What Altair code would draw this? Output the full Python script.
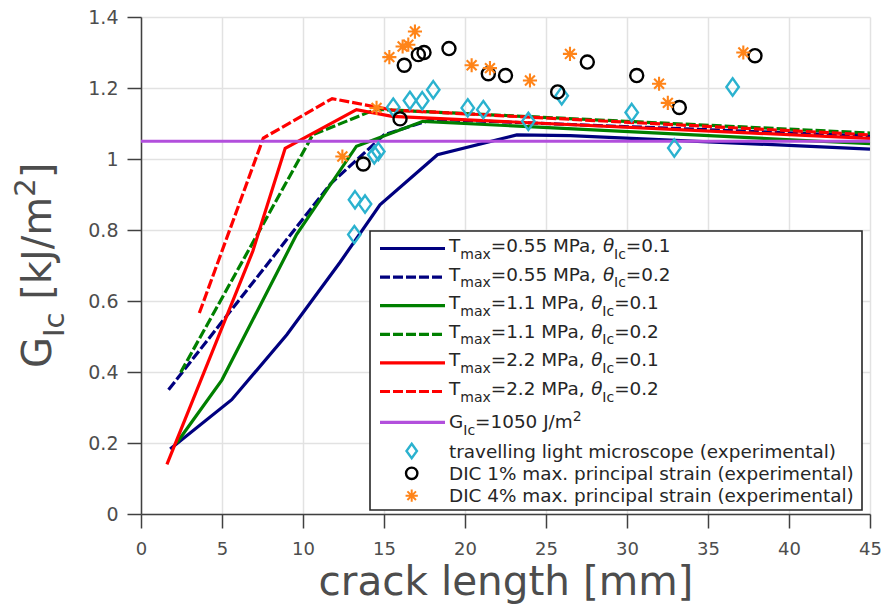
import altair as alt
import pandas as pd

# ---------------- data ----------------
# Cohesive-zone model predictions: crack length [mm] -> G_Ic [kJ/m^2]
tmax055_th01_a = [1.8, 5.6, 9.0, 12.3, 14.75, 18.3, 23.2, 26.5, 45.0]
tmax055_th01_g = [0.183, 0.322, 0.505, 0.710, 0.871, 1.012, 1.068, 1.066, 1.028]
tmax055_th02_a = [1.7, 11.7, 15.0, 18.0, 45.0]
tmax055_th02_g = [0.350, 0.930, 1.068, 1.112, 1.065]
tmax11_th01_a = [2.2, 5.0, 9.6, 13.3, 17.4, 45.0]
tmax11_th01_g = [0.200, 0.378, 0.787, 1.036, 1.106, 1.043]
tmax11_th02_a = [2.45, 10.6, 14.5, 45.0]
tmax11_th02_g = [0.399, 1.068, 1.140, 1.073]
tmax22_th01_a = [1.6, 6.9, 8.9, 13.3, 15.5, 45.0]
tmax22_th01_g = [0.140, 0.740, 1.030, 1.139, 1.120, 1.058]
tmax22_th02_a = [3.6, 7.55, 11.8, 15.5, 45.0]
tmax22_th02_g = [0.566, 1.059, 1.170, 1.138, 1.068]

g_ic_const = 1.05          # 1050 J/m^2
crack_range = [0, 45]

# Experimental measurements
tlm_a = [13.17, 13.21, 13.83, 14.40, 14.65, 15.57, 16.60, 17.36, 18.04,
         20.17, 21.13, 23.91, 25.97, 30.29, 32.92, 36.52]
tlm_g = [0.787, 0.885, 0.873, 1.012, 1.021, 1.146, 1.165, 1.164, 1.195,
         1.144, 1.139, 1.106, 1.178, 1.131, 1.031, 1.203]
dic1_a = [13.72, 15.99, 16.25, 17.12, 17.47, 19.01, 21.44, 22.50, 25.72,
          27.55, 30.60, 33.23, 37.90]
dic1_g = [0.986, 1.113, 1.264, 1.294, 1.300, 1.311, 1.240, 1.235, 1.189,
          1.273, 1.235, 1.145, 1.291]
dic4_a = [12.43, 14.54, 15.33, 16.15, 16.50, 16.91, 20.41, 21.54, 24.01,
          26.48, 31.98, 32.52, 37.18]
dic4_g = [1.007, 1.144, 1.287, 1.317, 1.322, 1.359, 1.264, 1.256, 1.221,
          1.296, 1.212, 1.158, 1.300]

x_ticks = [0, 5, 10, 15, 20, 25, 30, 35, 40, 45]
y_ticks = [0, 0.2, 0.4, 0.6, 0.8, 1, 1.2, 1.4]

# ---------------- styling ----------------
FONT = "DejaVu Sans"
NAVY, GREEN, RED, PURPLE = "#00007f", "#008000", "#ff0000", "#b24fdc"
CYAN, ORANGE, BLACK = "#2bb2cf", "#ff8419", "#000000"
AXIS_GRAY, LABEL_GRAY = "#404040", "#4d4d4d"
DASH = [10, 3]
LW = 3.2

W, H = 729, 497

DIAMOND = "M0,-1L0.72,0L0,1L-0.72,0Z"
ASTERISK = "M-1,0L1,0M0,-1L0,1M-0.7,-0.7L0.7,0.7M-0.7,0.7L0.7,-0.7"

X_ENC = alt.X(
    "a:Q",
    scale=alt.Scale(domain=crack_range, nice=False, zero=False),
    axis=alt.Axis(
        values=x_ticks, title="crack length [mm]",
        titleFont=FONT, titleFontSize=40.5, titleFontWeight="normal",
        titleColor=LABEL_GRAY, titleBaseline="alphabetic", titleY=80,
        labelFont=FONT, labelFontSize=18, labelColor=LABEL_GRAY,
        labelPadding=12, labelFlush=False, labelOverlap=False,
        tickSize=14, tickWidth=1.5, tickColor=AXIS_GRAY,
        domainColor=AXIS_GRAY, domainWidth=1.5,
        grid=True, gridColor="#e2e2e2", gridWidth=1.5,
    ),
)
Y_ENC = alt.Y(
    "g:Q",
    scale=alt.Scale(domain=[0, 1.4], nice=False, zero=False),
    axis=alt.Axis(
        values=y_ticks, format="~g", title=None,
        labelFont=FONT, labelFontSize=19, labelColor=LABEL_GRAY,
        labelPadding=9, labelFlush=False, labelOverlap=False,
        tickSize=14, tickWidth=1.5, tickColor=AXIS_GRAY,
        domainColor=AXIS_GRAY, domainWidth=1.5,
        grid=True, gridColor="#e2e2e2", gridWidth=1.5,
    ),
)


def curve(a, g, color, dashed=False):
    df = pd.DataFrame({"a": a, "g": g})
    kw = dict(color=color, strokeWidth=LW)
    if dashed:
        kw["strokeDash"] = DASH
    return alt.Chart(df).mark_line(**kw).encode(x=X_ENC, y=Y_ENC)


def scatter(a, g, shape, color, size, sw):
    df = pd.DataFrame({"a": a, "g": g})
    return alt.Chart(df).mark_point(
        shape=shape, filled=False, color=color, size=size, strokeWidth=sw, opacity=1
    ).encode(x=X_ENC, y=Y_ENC)


curves = [
    curve(tmax055_th01_a, tmax055_th01_g, NAVY),
    curve(tmax055_th02_a, tmax055_th02_g, NAVY, True),
    curve(tmax11_th01_a, tmax11_th01_g, GREEN),
    curve(tmax11_th02_a, tmax11_th02_g, GREEN, True),
    curve(tmax22_th01_a, tmax22_th01_g, RED),
    curve(tmax22_th02_a, tmax22_th02_g, RED, True),
    curve(crack_range, [g_ic_const, g_ic_const], PURPLE),
]

points = [
    scatter(tlm_a, tlm_g, DIAMOND, CYAN, 300, 2.4),
    scatter(dic1_a, dic1_g, "circle", BLACK, 170, 2.4),
    scatter(dic4_a, dic4_g, ASTERISK, ORANGE, 200, 2.1),
]

# ---------------- rich text helpers (sub/superscripts) ----------------
CHAR_W = {
    " ": 0.318, "(": 0.390, ")": 0.390, "%": 0.950, ",": 0.318, ".": 0.318,
    "/": 0.337, "=": 0.838, "C": 0.698, "D": 0.770, "G": 0.775, "I": 0.295,
    "J": 0.295, "M": 0.863, "P": 0.603, "T": 0.611, "[": 0.390, "]": 0.390,
    "a": 0.613, "c": 0.550, "e": 0.615, "g": 0.635, "h": 0.634, "i": 0.278,
    "k": 0.579, "l": 0.278, "m": 0.974, "n": 0.634, "o": 0.612, "p": 0.635,
    "r": 0.411, "s": 0.521, "t": 0.392, "u": 0.634, "v": 0.592, "x": 0.592,
    "θ": 0.602,
}


def text_width(s, size):
    return sum(CHAR_W.get(ch, 0.636) for ch in s) * size


def layout(runs, start, base, size, small, sub_dy, sup_dy):
    """Return pieces with advance position u and baseline offset v.

    Leading blanks are turned into an advance, since SVG drops them.
    """
    out, u = [], start
    for txt, role in runs:
        fs = small if role in ("sub", "sup") else size
        dv = sub_dy if role == "sub" else (-sup_dy if role == "sup" else 0)
        body = txt.lstrip(" ")
        u += text_width(txt[: len(txt) - len(body)], fs)
        out.append({"u": u, "v": base + dv, "t": body, "fs": fs, "it": role == "it"})
        u += text_width(body, fs)
    return out


def text_layer(pieces, angle=0, color="#262626"):
    layers = []
    for italic in (False, True):
        rows = [p for p in pieces if p["it"] == italic]
        if not rows:
            continue
        df = pd.DataFrame(rows)
        mk = dict(align="left", baseline="alphabetic", font=FONT, color=color)
        if italic:
            mk["fontStyle"] = "italic"
        if angle:
            mk["angle"] = angle
        layers.append(
            alt.Chart(df).mark_text(**mk).encode(
                x=alt.X("px:Q", scale=None, axis=None),
                y=alt.Y("py:Q", scale=None, axis=None),
                text="t:N",
                size=alt.Size("fs:Q", scale=None, legend=None),
            )
        )
    return layers


# ---------------- y-axis title: G_Ic [kJ/m^2], rotated ----------------
ytitle_runs = [("G", "n"), ("Ic", "sub"), (" [kJ/m", "n"), ("2", "sup"), ("]", "n")]
yt = layout(ytitle_runs, 0, 0, 40, 29, 13, 16)
for p in yt:
    p["px"] = -90 + p["v"]        # baseline column left of the axis
    p["py"] = 351 - p["u"]        # text runs bottom-to-top
ytitle = text_layer(yt, angle=270, color=LABEL_GRAY)

# ---------------- legend ----------------
LEG_FS, LEG_SUB = 18.4, 14
line_entries = [
    (NAVY, False, "0.55", "0.1"), (NAVY, True, "0.55", "0.2"),
    (GREEN, False, "1.1", "0.1"), (GREEN, True, "1.1", "0.2"),
    (RED, False, "2.2", "0.1"), (RED, True, "2.2", "0.2"),
]
row_y = [231.5, 260.1, 288.7, 317.3, 345.9, 374.5]
gic_row_y = 405.3
sym_row_y = [434.0, 456.3, 478.7]
sample_x0, sample_x1, sym_x, text_x = 239, 304, 270.7, 308

solid_rows, dashed_rows, leg_pieces = [], [], []
for (col, dashed, tmax, th), yy in zip(line_entries, row_y):
    (dashed_rows if dashed else solid_rows).append(
        {"x1": sample_x0, "x2": sample_x1, "y": yy, "c": col})
    runs = [("T", "n"), ("max", "sub"), (f"={tmax} MPa, ", "n"),
            ("θ", "it"), ("Ic", "sub"), (f"={th}", "n")]
    leg_pieces += layout(runs, text_x, yy + 3.4, LEG_FS, LEG_SUB, 6.6, 7)
solid_rows.append({"x1": sample_x0, "x2": sample_x1, "y": gic_row_y, "c": PURPLE})
leg_pieces += layout([("G", "n"), ("Ic", "sub"), ("=1050 J/m", "n"), ("2", "sup")],
                     text_x, gic_row_y + 6, LEG_FS, LEG_SUB, 6.6, 7)
exp_labels = ["travelling light microscope (experimental)",
              "DIC 1% max. principal strain (experimental)",
              "DIC 4% max. principal strain (experimental)"]
for lab, yy in zip(exp_labels, sym_row_y):
    leg_pieces += layout([(lab, "n")], text_x, yy + 6.5, LEG_FS, LEG_SUB, 6.6, 7)
for p in leg_pieces:
    p["px"], p["py"] = p["u"], p["v"]

box = alt.Chart(pd.DataFrame({"x1": [229], "x2": [721], "y1": [214], "y2": [493]})).mark_rect(
    fill="white", stroke="#262626", strokeWidth=1.6
).encode(
    x=alt.X("x1:Q", scale=None, axis=None), x2="x2:Q",
    y=alt.Y("y1:Q", scale=None, axis=None), y2="y2:Q",
)


def sample_rules(rows, dashed):
    kw = dict(strokeWidth=LW)
    if dashed:
        kw["strokeDash"] = DASH
    return alt.Chart(pd.DataFrame(rows)).mark_rule(**kw).encode(
        x=alt.X("x1:Q", scale=None, axis=None), x2="x2:Q",
        y=alt.Y("y:Q", scale=None, axis=None),
        color=alt.Color("c:N", scale=None, legend=None),
    )


def sample_symbol(shape, color, size, sw, yy):
    return alt.Chart(pd.DataFrame({"x": [sym_x], "y": [yy]})).mark_point(
        shape=shape, filled=False, color=color, size=size, strokeWidth=sw, opacity=1
    ).encode(
        x=alt.X("x:Q", scale=None, axis=None),
        y=alt.Y("y:Q", scale=None, axis=None),
    )


legend = [
    box,
    sample_rules(solid_rows, False),
    sample_rules(dashed_rows, True),
    sample_symbol(DIAMOND, CYAN, 210, 2.4, sym_row_y[0]),
    sample_symbol("circle", BLACK, 130, 2.4, sym_row_y[1]),
    sample_symbol(ASTERISK, ORANGE, 150, 2.0, sym_row_y[2]),
] + text_layer(leg_pieces)

chart = alt.layer(*curves, *points, *legend, *ytitle).properties(
    width=W, height=H,
    autosize=alt.AutoSizeParams(type="none"),
    padding={"left": 141, "top": 17, "right": 12, "bottom": 95},
    background="white",
).configure_view(strokeWidth=0)

chart.save("out.html", embed_options={"renderer": "svg", "actions": False})
